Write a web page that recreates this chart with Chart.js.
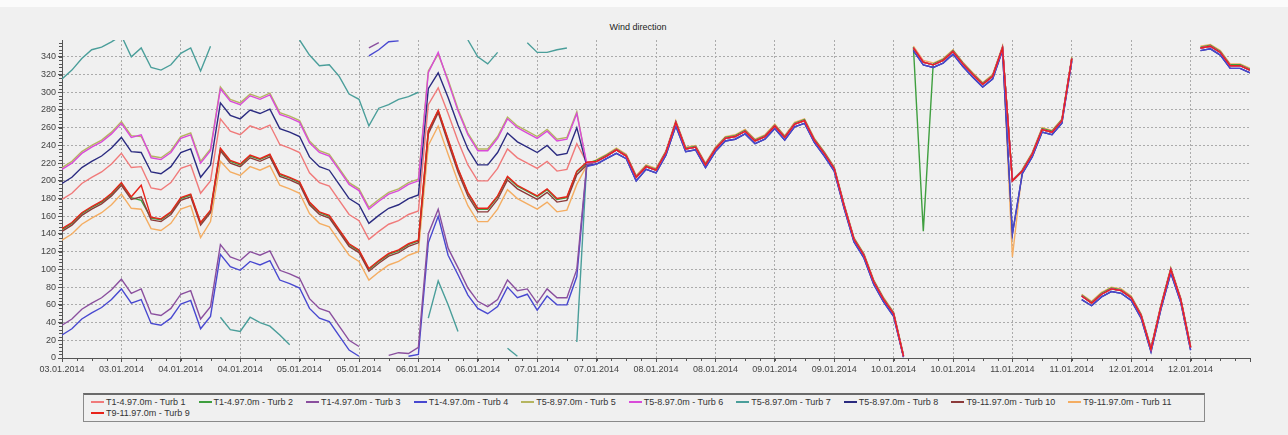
<!DOCTYPE html>
<html>
<head>
<meta charset="utf-8">
<script src="https://cdn.jsdelivr.net/npm/chart.js@4.4.1/dist/chart.umd.min.js"></script>
<style>
  body { margin: 0; background: #f0f0f0; width: 1288px; height: 435px; overflow: hidden; font-family: "Liberation Sans", Arial, sans-serif; }
  #topstrip { position: absolute; left: 0; top: 0; width: 1288px; height: 7px; background: #fbfbfb; }
  #title { position: absolute; left: 0; top: 22px; width: 1276px; text-align: center; font-size: 9px; color: #222; }
  #wrap { position: absolute; left: 0; top: 0; width: 1288px; height: 385px; }
  #legend { position: absolute; left: 83px; top: 393px; width: 1122px; height: 29px; box-sizing: border-box;
            border: 1px solid #8a8a8a; border-top: 2px solid #6a6a6a; padding: 1px 0 0 7px;
            font-size: 9px; color: #333; display: flex; flex-wrap: wrap; align-content: flex-start; }
  .item { display: flex; align-items: center; margin-right: 13px; height: 11.5px; white-space: nowrap; }
  .item i { display: inline-block; width: 13px; height: 2px; margin-right: 2px; }
</style>
</head>
<body>
<div id="topstrip"></div>
<div id="title">Wind direction</div>
<div id="wrap"><canvas id="myChart"></canvas></div>
<div id="legend"></div>
<script>
// hours since 03.01.2014 00:00, one reading every 2 h
const hours = [0,2,4,6,8,10,12,14,16,18,20,22,24,26,28,30,32,34,36,38,40,42,44,46,48,50,52,54,56,58,
  60,62,64,66,68,70,72,74,76,78,80,82,84,86,88,90,92,94,96,98,100,102,104,106,108,110,112,114,116,118,
  120,122,124,126,128,130,132,134,136,138,140,142,144,146,148,150,152,154,156,158,160,162,164,166,168,170,172,174,176,178,
  180,182,184,186,188,190,192,194,196,198,200,202,204,206,208,210,212,214,216,218,220,222,224,226,228,230,232,234,236,238,240];

const xTickLabels = ['03.01.2014','03.01.2014','04.01.2014','04.01.2014','05.01.2014','05.01.2014','06.01.2014','06.01.2014',
  '07.01.2014','07.01.2014','08.01.2014','08.01.2014','09.01.2014','09.01.2014','10.01.2014','10.01.2014',
  '11.01.2014','11.01.2014','12.01.2014','12.01.2014'];

// 03.01 00:00 -> 07.01 10:00, turbines still disagree
const turb1Head = [179,186,197,204,210,219,231,215,216,192,190,198,214,218,186,200,270,256,252,262,258,263,241,237,232,209,198,194,178,162,155,134,143,151,155,162,166,286,305,276,245,218,200,200,214,236,226,220,214,222,211,213,242,221];
const turb2Head = [145,152,163,170,176,185,197,181,178,158,156,164,180,184,152,166,236,222,218,228,224,229,207,203,198,175,164,160,144,128,121,100,109,117,121,128,132,256,279,246,213,186,168,168,182,204,194,188,182,190,179,181,210,220];
const turb3Head = [37,44,55,62,68,77,89,73,78,50,48,56,72,76,44,58,128,114,110,120,116,121,99,95,90,67,56,52,36,20,13,350,356,3,6,5,12,140,168,124,102,79,64,58,66,88,76,78,62,78,68,68,100,218];
const turb4Head = [26,33,44,51,57,66,78,62,66,39,37,45,61,65,33,47,117,103,99,109,105,110,88,84,79,56,45,41,25,9,2,341,348,357,358,2,4,130,160,116,94,71,56,50,58,80,68,72,54,70,60,60,92,216];
const turb5Head = [215,222,233,240,246,255,267,251,250,228,226,234,250,254,222,236,306,292,288,298,294,299,277,273,268,245,234,230,214,198,191,170,179,187,191,198,202,324,343,314,281,254,236,236,250,272,262,256,250,258,247,249,278,218];
const turb6Head = [213,220,231,238,244,253,265,249,252,226,224,232,248,252,220,234,304,290,286,296,292,297,275,271,266,243,232,228,212,196,189,168,177,185,189,196,200,322,345,312,279,252,234,234,248,270,260,254,248,256,245,247,276,220];
const turb7Head = [315,325,338,348,351,357,364,340,350,328,325,331,344,350,324,352,46,32,30,46,40,36,26,15,359,342,330,331,318,298,292,262,282,286,292,295,300,45,87,60,30,359,340,332,345,11,2,356,345,345,348,350,18,219];
const turb8Head = [197,204,215,222,228,237,249,233,232,210,208,216,232,236,204,218,288,274,270,280,276,281,259,255,250,227,216,212,196,180,173,152,161,169,173,180,184,304,322,294,263,236,218,218,232,254,244,238,232,240,229,231,260,217];
const turb9Head = [146,153,164,171,177,186,198,182,195,159,157,165,181,185,153,167,237,223,219,229,225,230,208,204,199,176,165,161,145,129,122,101,110,118,122,129,133,257,280,247,214,187,169,169,183,205,195,189,183,191,180,182,211,221];
const turb10Head = [143,150,161,168,174,183,195,179,182,156,154,162,178,182,150,164,234,220,216,226,222,227,205,201,196,173,162,158,142,126,119,98,107,115,119,126,130,253,277,243,210,183,165,165,179,201,191,185,179,187,176,178,207,218];
const turb11Head = [133,140,151,158,164,173,185,169,168,146,144,152,168,172,136,154,222,210,206,216,212,217,195,191,186,163,152,148,132,116,109,88,97,105,109,116,120,240,262,230,199,172,154,154,168,190,180,174,168,176,165,167,196,217];

// 07.01 12:00 -> end, all turbines read the same direction
const tailMain = [222,228,235,228,204,216,212,232,266,236,238,218,236,248,250,256,245,250,262,249,264,268,246,231,214,172,134,116,86,66,50,2,350,334,331,336,346,332,320,309,318,350,200,211,230,258,255,268,338,70,62,72,78,76,68,48,10,58,100,66,12,350,352,345,330,330,325];
const tailLow = [219,225,231,225,200,213,209,229,262,233,235,215,233,245,247,253,242,247,259,246,261,265,243,228,211,169,131,113,83,63,47,1,347,331,328,333,343,329,317,306,315,347,140,208,227,255,252,265,335,66,59,69,75,73,65,45,7,55,96,63,9,347,349,342,327,327,322];
const tailTurb2 = [223,229,236,229,205,217,213,233,267,237,239,219,237,249,251,257,246,251,263,250,265,269,247,232,215,173,135,117,87,67,51,3,351,143,332,337,347,333,321,310,319,351,201,212,231,259,256,269,339,71,63,73,79,77,69,49,11,59,101,67,13,351,353,346,331,331,326];
const tailTurb11 = [224,230,237,230,206,218,214,234,268,238,240,220,238,250,252,258,247,252,264,251,266,270,248,233,216,174,136,118,88,68,52,4,352,336,333,338,348,334,322,311,320,352,114,213,232,260,257,270,340,72,64,74,80,78,70,50,12,60,102,68,14,352,354,347,332,332,327];

const series = [
  { label: 'T1-4.97.0m - Turb 1',   color: '#f07a7a', data: turb1Head.concat(tailMain),   order: 5 },
  { label: 'T1-4.97.0m - Turb 2',   color: '#3f9f3f', data: turb2Head.concat(tailTurb2),  order: 7 },
  { label: 'T1-4.97.0m - Turb 3',   color: '#8a4f9e', data: turb3Head.concat(tailMain),   order: 2 },
  { label: 'T1-4.97.0m - Turb 4',   color: '#4848d0', data: turb4Head.concat(tailLow),    order: 3 },
  { label: 'T5-8.97.0m - Turb 5',   color: '#b5b560', data: turb5Head.concat(tailMain),   order: 9 },
  { label: 'T5-8.97.0m - Turb 6',   color: '#d94bd9', data: turb6Head.concat(tailMain),   order: 1 },
  { label: 'T5-8.97.0m - Turb 7',   color: '#4a9e9a', data: turb7Head.concat(tailMain),   order: 10 },
  { label: 'T5-8.97.0m - Turb 8',   color: '#2b2b80', data: turb8Head.concat(tailLow),    order: 4 },
  { label: 'T9-11.97.0m - Turb 9',  color: '#e8231a', data: turb9Head.concat(tailMain),   order: 0 },
  { label: 'T9-11.97.0m - Turb 10', color: '#8c3a3a', data: turb10Head.concat(tailMain),  order: 6 },
  { label: 'T9-11.97.0m - Turb 11', color: '#f4ad62', data: turb11Head.concat(tailTurb11), order: 8 }
];
const legendOrder = [0, 1, 2, 3, 4, 5, 6, 7, 9, 10, 8];

// direction wraps 360 -> 0 : do not draw the connecting segment
const wrapGap = ctx => Math.abs(ctx.p1.parsed.y - ctx.p0.parsed.y) > 240 ? 'rgba(0,0,0,0)' : undefined;

const minorTicks = {
  id: 'minorTicks',
  afterDraw(chart) {
    const { ctx, chartArea, scales: { x, y } } = chart;
    ctx.save();
    ctx.strokeStyle = '#555';
    ctx.lineWidth = 1;
    ctx.beginPath();
    for (let v = 0; v <= 358; v += 4) {
      const py = Math.round(y.getPixelForValue(v)) + 0.5;
      ctx.moveTo(chartArea.left - 3, py);
      ctx.lineTo(chartArea.left, py);
    }
    for (let h = 0; h <= 240; h += 3) {
      const px = Math.round(x.getPixelForValue(h)) + 0.5;
      ctx.moveTo(px, chartArea.bottom);
      ctx.lineTo(px, chartArea.bottom + 3);
    }
    ctx.stroke();
    ctx.restore();
  }
};

const data = {
  labels: hours,
  datasets: series.map(s => ({
    label: s.label,
    data: s.data,
    borderColor: s.color,
    backgroundColor: s.color,
    borderWidth: 1.4,
    pointRadius: 0,
    tension: 0,
    fill: false,
    order: s.order,
    segment: { borderColor: wrapGap }
  }))
};

const config = {
  type: 'line',
  data: data,
  options: {
    responsive: true,
    maintainAspectRatio: false,
    animation: false,
    layout: { padding: { top: 40, right: 38, left: 0, bottom: 0 } },
    plugins: {
      legend: { display: false },
      title: { display: false },
      tooltip: { enabled: false }
    },
    scales: {
      x: {
        type: 'linear',
        min: 0,
        max: 240,
        afterFit: scale => { scale.height = 27; },
        ticks: {
          stepSize: 12,
          autoSkip: false,
          maxRotation: 0,
          padding: 2,
          color: '#444',
          font: { family: 'Liberation Sans', size: 9 },
          callback: v => xTickLabels[v / 12] || ''
        },
        grid: {
          color: ctx => (ctx.tick && ctx.tick.value > 0 && ctx.tick.value < 240) ? '#ababab' : 'rgba(0,0,0,0)',
          tickColor: '#555',
          tickLength: 4
        },
        border: { display: true, color: '#555', width: 1, dash: [2, 2] }
      },
      y: {
        min: 0,
        max: 359,
        afterFit: scale => { scale.width = 62; },
        ticks: {
          stepSize: 20,
          includeBounds: false,
          padding: 2,
          color: '#444',
          font: { family: 'Liberation Sans', size: 9 }
        },
        grid: {
          color: ctx => (ctx.tick && ctx.tick.value > 0) ? '#ababab' : 'rgba(0,0,0,0)',
          tickColor: '#555',
          tickLength: 4
        },
        border: { display: true, color: '#555', width: 1, dash: [2, 2] }
      }
    }
  },
  plugins: [minorTicks]
};

const mychart = new Chart(document.getElementById('myChart'), config);

const legend = document.getElementById('legend');
legendOrder.forEach(i => {
  const s = series[i];
  const item = document.createElement('span');
  item.className = 'item';
  const mark = document.createElement('i');
  mark.style.background = s.color;
  item.appendChild(mark);
  item.appendChild(document.createTextNode(s.label));
  legend.appendChild(item);
});
</script>
</body>
</html>
